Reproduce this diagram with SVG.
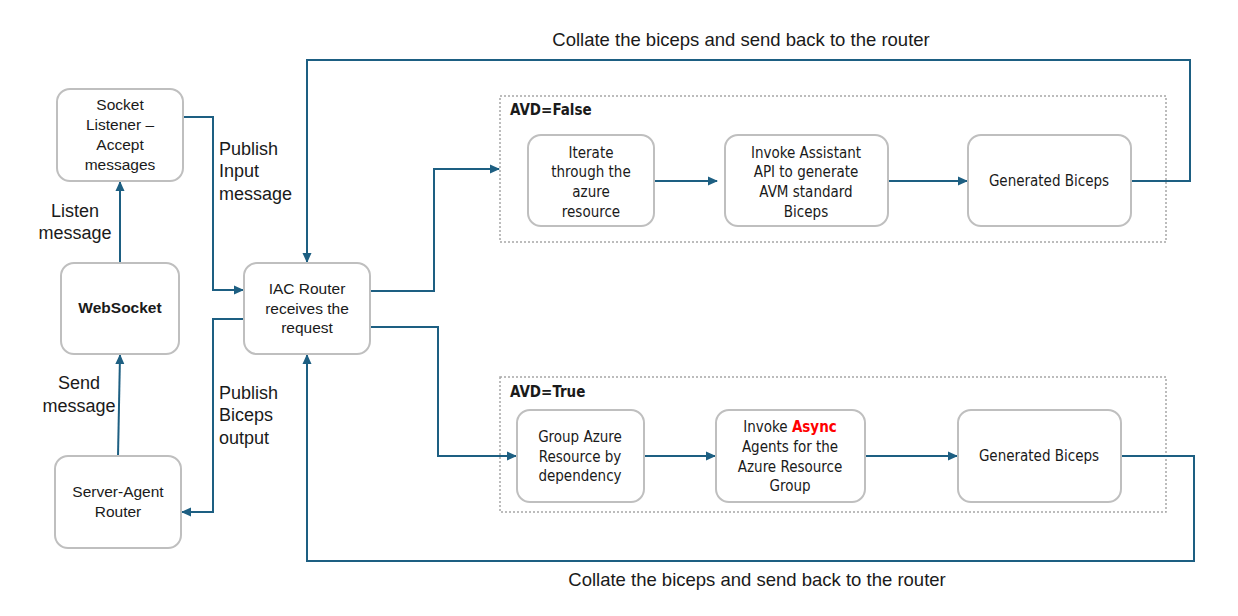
<svg xmlns="http://www.w3.org/2000/svg" width="1238" height="616" viewBox="0 0 1238 616">
<defs>
<marker id="ah" markerUnits="userSpaceOnUse" markerWidth="10" markerHeight="10" viewBox="0 0 10 10" refX="9" refY="5" orient="auto">
<path d="M0,0.5 L10,5 L0,9.5 z" fill="#1d5f82"/>
</marker>
<style>
.node{fill:#fff;stroke:#bfbfbf;stroke-width:2}
.grp{fill:none;stroke:#a6a6a6;stroke-width:1.5;stroke-dasharray:2 2}
.c{fill:none;stroke:#1d5f82;stroke-width:2;marker-end:url(#ah)}
.t{font-family:"Liberation Sans",Arial,sans-serif;font-size:15.5px;fill:#1a1a1a;text-anchor:middle}
.n{font-family:"Liberation Sans Narrow","DejaVu Sans Condensed","Liberation Sans",sans-serif;font-size:15px;fill:#1a1a1a;text-anchor:middle}
.lab{font-family:"Liberation Sans",Arial,sans-serif;font-size:18px;fill:#1a1a1a}
.big{font-family:"Liberation Sans",Arial,sans-serif;font-size:18.5px;fill:#1a1a1a;text-anchor:middle}
.gl{font-family:"Liberation Sans Narrow","DejaVu Sans Condensed","Liberation Sans",sans-serif;font-size:15px;font-weight:bold;fill:#1a1a1a}
</style>
</defs>
<rect width="1238" height="616" fill="#fff"/>

<g id="group-avd-false">
<rect class="grp" x="500" y="96" width="666" height="146"/>
<text class="gl" x="510" y="115">AVD=False</text>
</g>
<g id="group-avd-true">
<rect class="grp" x="500" y="377" width="666" height="135"/>
<text class="gl" x="510" y="397">AVD=True</text>
</g>

<g id="connectors">
<path class="c" d="M120,263 L120,182"/>
<path class="c" d="M118,456 L120,355"/>
<path class="c" d="M183,117 L213,117 L213,290 L243,290"/>
<path class="c" d="M244,319 L213,319 L213,512 L182,512"/>
<path class="c" d="M370,291 L434,291 L434,169 L499,169"/>
<path class="c" d="M370,327 L438,327 L438,456 L516,456"/>
<path class="c" d="M654,181 L717,181"/>
<path class="c" d="M888,181 L967,181"/>
<path class="c" d="M644,456 L715,456"/>
<path class="c" d="M865,456 L957,456"/>
<path class="c" d="M1131,181 L1190,181 L1190,60 L307,60 L307,262"/>
<path class="c" d="M1121,456 L1194,456 L1194,561 L307,561 L307,355"/>
</g>

<g id="labels">
<text class="big" x="741" y="46">Collate the biceps and send back to the router</text>
<text class="big" x="757" y="586">Collate the biceps and send back to the router</text>
<text class="lab" x="219" y="155">Publish</text>
<text class="lab" x="219" y="177">Input</text>
<text class="lab" x="219" y="200">message</text>
<text class="lab" x="75" y="217" text-anchor="middle">Listen</text>
<text class="lab" x="75" y="239" text-anchor="middle">message</text>
<text class="lab" x="79" y="389" text-anchor="middle">Send</text>
<text class="lab" x="79" y="412" text-anchor="middle">message</text>
<text class="lab" x="219" y="399">Publish</text>
<text class="lab" x="219" y="421">Biceps</text>
<text class="lab" x="219" y="444">output</text>
</g>

<g id="socket-listener">
<rect class="node" x="57" y="89" width="126" height="92" rx="13"/>
<text class="t" x="120" y="110">Socket</text>
<text class="t" x="120" y="130">Listener –</text>
<text class="t" x="120" y="150">Accept</text>
<text class="t" x="120" y="170">messages</text>
</g>
<g id="websocket">
<rect class="node" x="61" y="263" width="118" height="91" rx="13"/>
<text class="t" x="120" y="313" font-weight="bold">WebSocket</text>
</g>
<g id="server-agent-router">
<rect class="node" x="55" y="456" width="126" height="92" rx="13"/>
<text class="t" x="118" y="497">Server-Agent</text>
<text class="t" x="118" y="517">Router</text>
</g>
<g id="iac-router">
<rect class="node" x="244" y="263" width="126" height="91" rx="13"/>
<text class="t" x="307" y="294">IAC Router</text>
<text class="t" x="307" y="314">receives the</text>
<text class="t" x="307" y="333">request</text>
</g>

<g id="iterate">
<rect class="node" x="528" y="135" width="126" height="91" rx="13"/>
<text class="n" x="591" y="158">Iterate</text>
<text class="n" x="591" y="177">through the</text>
<text class="n" x="591" y="197">azure</text>
<text class="n" x="591" y="217">resource</text>
</g>
<g id="invoke-assistant">
<rect class="node" x="725" y="135" width="163" height="91" rx="13"/>
<text class="n" x="806" y="158">Invoke Assistant</text>
<text class="n" x="806" y="177">API to generate</text>
<text class="n" x="806" y="197">AVM standard</text>
<text class="n" x="806" y="217">Biceps</text>
</g>
<g id="generated-biceps-1">
<rect class="node" x="968" y="135" width="163" height="91" rx="13"/>
<text class="n" x="1049" y="186">Generated Biceps</text>
</g>

<g id="group-azure">
<rect class="node" x="517" y="410" width="127" height="92" rx="13"/>
<text class="n" x="580" y="442">Group Azure</text>
<text class="n" x="580" y="462">Resource by</text>
<text class="n" x="580" y="481">dependency</text>
</g>
<g id="invoke-async">
<rect class="node" x="716" y="410" width="149" height="92" rx="13"/>
<text class="n" x="790" y="432">Invoke <tspan fill="#ff0000" font-weight="bold">Async</tspan></text>
<text class="n" x="790" y="452">Agents for the</text>
<text class="n" x="790" y="472">Azure Resource</text>
<text class="n" x="790" y="491">Group</text>
</g>
<g id="generated-biceps-2">
<rect class="node" x="958" y="410" width="163" height="92" rx="13"/>
<text class="n" x="1039" y="461">Generated Biceps</text>
</g>
</svg>
